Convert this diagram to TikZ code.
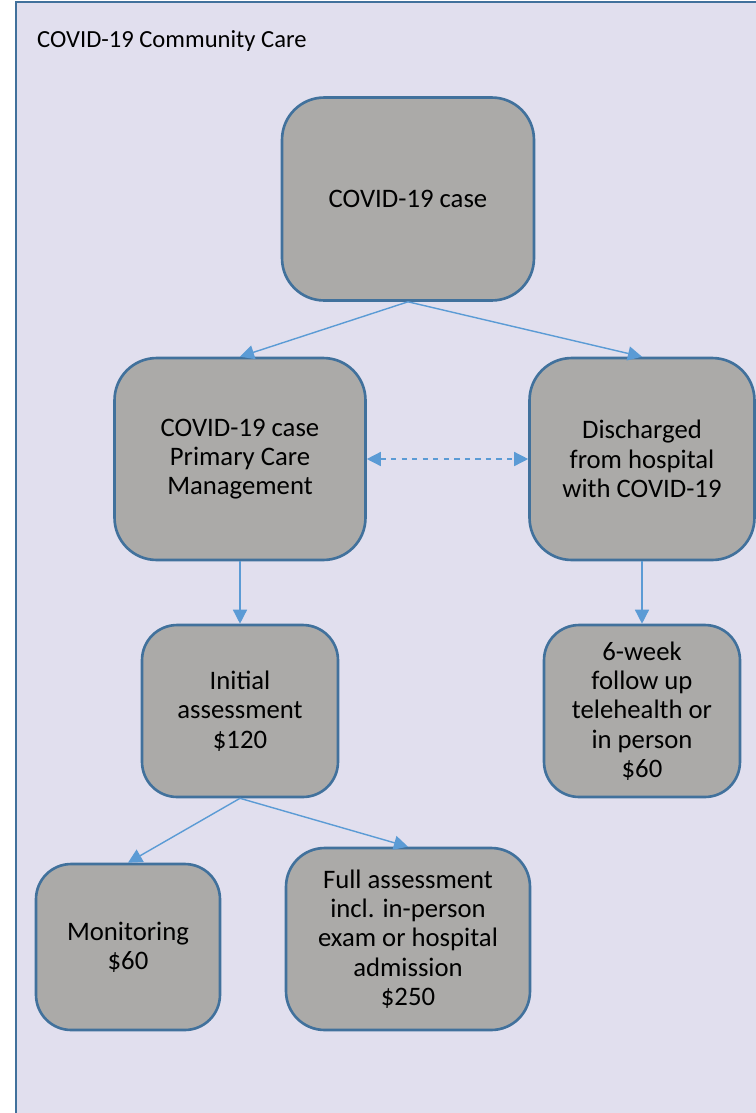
\documentclass[tikz,border=0pt]{standalone}
\usepackage{fontspec}
\setmainfont{Carlito}
\usepackage{tikz}
\usetikzlibrary{arrows.meta}
\definecolor{panelfill}{HTML}{E1DFEE}
\definecolor{panelline}{HTML}{41719C}
\definecolor{boxfill}{HTML}{ABAAA8}
\definecolor{arrowblue}{HTML}{5B9BD5}
\tikzset{
    carebox/.style={draw=panelline, line width=1.5pt, fill=boxfill, rounded corners=#1,
        align=center, inner sep=2pt, font=\fontsize{15.2}{16.7}\selectfont},
    carebox/.default=20pt,
    flow/.style={draw=arrowblue, line width=0.8pt, -{Triangle[length=8pt,width=8pt]}},
}

\begin{document}
\begin{tikzpicture}[x=0.02cm,y=-0.02cm]
            \clip (0,0) rectangle (756,1113);
            \fill[white] (0,0) rectangle (756,1113);
            \draw[panelline, line width=1.4pt, fill=panelfill] (16,2) rectangle (790,1140);
            \node[anchor=west, font=\fontsize{14}{16.5}\selectfont] (title) at (31,41) {COVID-19 Community Care};
            \node[carebox=24pt, minimum width=5.04cm, minimum height=4.06cm] (case) at (408,199) {COVID-19 case};
            \node[carebox=24pt, minimum width=5.02cm, minimum height=4.04cm] (pcm) at (240,459) {COVID-19 case\\Primary Care\\Management};
            \node[carebox=24pt, minimum width=4.5cm, minimum height=4.04cm] (disch) at (642,459) {Discharged\\from hospital\\with COVID-19};
            \node[carebox, minimum width=3.92cm, minimum height=3.44cm] (init) at (240,711) {Initial\\assessment\\\$120};
            \node[carebox, minimum width=3.92cm, minimum height=3.44cm] (six) at (642,711) {6-week\\follow up\\telehealth or\\in person\\\$60};
            \node[carebox, minimum width=3.68cm, minimum height=3.32cm] (mon) at (128,947) {Monitoring\\\$60};
            \node[carebox=22pt, minimum width=4.88cm, minimum height=3.64cm] (full) at (408,939) {Full assessment\\incl. in-person\\exam or hospital\\admission\\\$250};
            \draw[flow] (case.south) -- (pcm.north);
            \draw[flow] (case.south) -- (disch.north);
            \draw[flow] (pcm.south) -- (init.north);
            \draw[flow] (disch.south) -- (six.north);
            \draw[flow] (init.south) -- (mon.north);
            \draw[flow] (init.south) -- (full.north);
            \draw[flow, {Triangle[length=8pt,width=8pt]}-{Triangle[length=8pt,width=8pt]}, dashed] (pcm.east) -- (disch.west);
        \end{tikzpicture}
\end{document}
